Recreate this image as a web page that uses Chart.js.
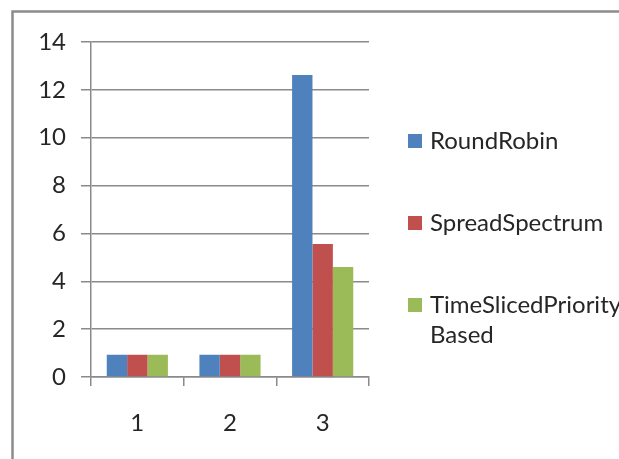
<!DOCTYPE html>
<html>
<head>
<meta charset="utf-8">
<script src="https://cdn.jsdelivr.net/npm/chart.js@4/dist/chart.umd.min.js"></script>
<style>
  html, body { margin: 0; padding: 0; background: #ffffff; }
  #wrap { width: 619px; height: 459px; position: relative; }
</style>
</head>
<body>
<div id="wrap"><canvas id="c" width="619" height="459"></canvas></div>
<script>
// Categories and series values
const categories = ['1', '2', '3'];
const seriesNames = ['RoundRobin', 'SpreadSpectrum', 'TimeSlicedPriority Based'];
const roundRobin = [0.93, 0.93, 12.62];
const spreadSpectrum = [0.93, 0.93, 5.56];
const timeSlicedPriority = [0.93, 0.93, 4.6];
const yTickValues = [0, 2, 4, 6, 8, 10, 12, 14];

const seriesColors = ['#4F81BD', '#C0504D', '#9BBB59'];
const FONT = 'Lato, "Open Sans", sans-serif';
const TEXT_COLOR = '#262626';
const LINE_COLOR = '#8a8a8a';

// White background with the grey frame around the chart
const framePlugin = {
  id: 'frame',
  beforeDraw(chart) {
    const ctx = chart.ctx;
    ctx.save();
    ctx.fillStyle = '#ffffff';
    ctx.fillRect(0, 0, chart.width, chart.height);
    ctx.strokeStyle = '#8c8c8c';
    ctx.lineWidth = 2.5;
    ctx.strokeRect(12.5, 11.5, chart.width + 20, chart.height + 20);
    ctx.restore();
  }
};

// Legend on the right, one entry per dataset, long labels wrapped
const sideLegend = {
  id: 'sideLegend',
  afterDraw(chart, args, opts) {
    const ctx = chart.ctx;
    ctx.save();
    ctx.font = opts.fontSize + 'px ' + FONT;
    ctx.textBaseline = 'middle';
    const maxW = chart.width - opts.textX;
    chart.data.datasets.forEach((ds, i) => {
      const cy = opts.firstY + i * opts.spacing;
      ctx.fillStyle = ds.backgroundColor;
      ctx.fillRect(opts.x, cy - opts.box / 2, opts.box, opts.box);
      // word wrap
      const words = ds.label.split(' ');
      const lines = [];
      let cur = '';
      words.forEach(w => {
        const t = cur ? cur + ' ' + w : w;
        if (cur && ctx.measureText(t).width > maxW) { lines.push(cur); cur = w; }
        else cur = t;
      });
      if (cur) lines.push(cur);
      ctx.fillStyle = TEXT_COLOR;
      lines.forEach((ln, k) => {
        ctx.fillText(ln, opts.textX, cy + k * opts.lineHeight);
      });
    });
    ctx.restore();
  }
};

const seriesData = [roundRobin, spreadSpectrum, timeSlicedPriority];

new Chart(document.getElementById('c'), {
  type: 'bar',
  data: {
    labels: categories,
    datasets: seriesNames.map((name, i) => ({
      label: name,
      data: seriesData[i],
      backgroundColor: seriesColors[i],
      borderWidth: 0,
      categoryPercentage: 0.66,
      barPercentage: 1.0
    }))
  },
  options: {
    responsive: false,
    animation: false,
    devicePixelRatio: 1,
    layout: { padding: { top: 42, right: 250, left: 0, bottom: 0 } },
    plugins: {
      legend: { display: false },
      tooltip: { enabled: false },
      sideLegend: { x: 408, textX: 430, firstY: 141, spacing: 82, box: 14, fontSize: 24, lineHeight: 30 }
    },
    scales: {
      x: {
        afterFit(s) { s.height = 82; },
        grid: { offset: true, drawOnChartArea: false, drawTicks: true, tickLength: 9, color: LINE_COLOR, lineWidth: 1.5 },
        border: { display: true, color: LINE_COLOR, width: 1.5 },
        ticks: { color: TEXT_COLOR, font: { family: FONT, size: 24 }, padding: 23 }
      },
      y: {
        min: 0,
        max: 14,
        afterFit(s) { s.width = 91; },
        afterBuildTicks(s) { s.ticks = yTickValues.map(v => ({ value: v })); },
        grid: { drawTicks: true, tickLength: 10, color: LINE_COLOR, lineWidth: 1.5 },
        border: { display: true, color: LINE_COLOR, width: 1.5 },
        ticks: { color: TEXT_COLOR, font: { family: FONT, size: 24 }, padding: 15 }
      }
    }
  },
  plugins: [framePlugin, sideLegend]
});
</script>
</body>
</html>
